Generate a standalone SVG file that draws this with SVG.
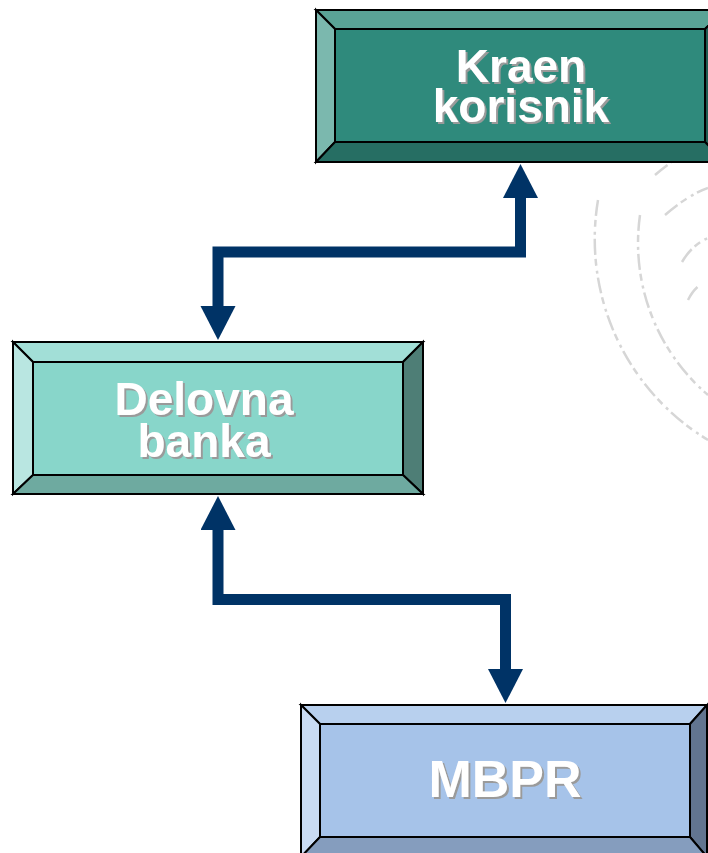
<svg xmlns="http://www.w3.org/2000/svg" width="708" height="853" viewBox="0 0 708 853">
  <style>
    .edge { stroke: #000; stroke-width: 2; stroke-linejoin: miter; }
    .lbl { font-family: "Liberation Sans", Arial, sans-serif; font-weight: bold; text-anchor: middle; fill: #fff; filter: url(#shadow); }
    .conn { fill: none; stroke: #003366; stroke-width: 11; stroke-linejoin: miter; }
    .wm { fill: none; stroke: #d6d6d6; stroke-width: 2.5; stroke-dasharray: 16 4 7 5 3 4; }
  </style>
  <defs>
    <marker id="ah" markerUnits="userSpaceOnUse" markerWidth="36" markerHeight="36" refX="1" refY="17.5" orient="auto-start-reverse" viewBox="0 0 36 36">
      <path d="M0,0 L34,17.5 L0,35 Z" fill="#003366"/>
    </marker>
    <filter id="shadow" x="-10%" y="-10%" width="130%" height="140%">
      <feOffset in="SourceAlpha" dx="2" dy="2" result="off"/>
      <feFlood flood-color="#9a9a9a"/>
      <feComposite in2="off" operator="in" result="sh"/>
      <feMerge>
        <feMergeNode in="sh"/>
        <feMergeNode in="SourceGraphic"/>
      </feMerge>
    </filter>
  </defs>
  <rect width="708" height="853" fill="#fff"/>

  <!-- faint watermark seal -->
  <g id="watermark">
    <path class="wm" d="M598,200 A235,235 0 0 0 708,440"/>
    <path class="wm" d="M640,215 A200,200 0 0 0 708,395"/>
    <path class="wm" d="M655,175 Q682,152 708,142"/>
    <path class="wm" d="M665,215 Q688,195 708,188"/>
    <path class="wm" d="M682,262 Q692,245 708,238"/>
    <path class="wm" d="M688,300 Q693,290 700,285"/>
  </g>

  <g id="connectors">
    <path class="conn" d="M520.5,197 V252 H218 V307" marker-start="url(#ah)" marker-end="url(#ah)"/>
    <path class="conn" d="M218,529 V599.5 H505.5 V670" marker-start="url(#ah)" marker-end="url(#ah)"/>
  </g>

  <g id="kraen-korisnik">
    <polygon class="edge" fill="#5aa396" points="316,10 725,10 705,29 335,29"/>
    <polygon class="edge" fill="#7bb8ae" points="316,10 335,29 335,142 316,162"/>
    <polygon class="edge" fill="#1f5c52" points="725,10 725,162 705,142 705,29"/>
    <polygon class="edge" fill="#266e63" points="316,162 335,142 705,142 725,162"/>
    <rect class="edge" fill="#2f8a7c" x="335" y="29" width="370" height="113"/>
    <text class="lbl" font-size="46" x="521" y="82">Kraen</text>
    <text class="lbl" font-size="46" x="521" y="122">korisnik</text>
  </g>

  <g id="delovna-banka">
    <polygon class="edge" fill="#a2dfd7" points="13,342 423,342 403,362 33,362"/>
    <polygon class="edge" fill="#b9e6e1" points="13,342 33,362 33,475 13,494"/>
    <polygon class="edge" fill="#4e7e76" points="423,342 423,494 403,475 403,362"/>
    <polygon class="edge" fill="#6eaaa0" points="13,494 33,475 403,475 423,494"/>
    <rect class="edge" fill="#88d6ca" x="33" y="362" width="370" height="113"/>
    <text class="lbl" font-size="46" x="204" y="415">Delovna</text>
    <text class="lbl" font-size="46" x="204" y="457">banka</text>
  </g>

  <g id="mbpr">
    <polygon class="edge" fill="#b8d0ee" points="301,705 707,705 690,724 320,724"/>
    <polygon class="edge" fill="#c9dbf3" points="301,705 320,724 320,837 301,857"/>
    <polygon class="edge" fill="#627590" points="707,705 707,857 690,837 690,724"/>
    <polygon class="edge" fill="#859dbe" points="301,857 320,837 690,837 707,857"/>
    <rect class="edge" fill="#a6c3e9" x="320" y="724" width="370" height="113"/>
    <text class="lbl" font-size="52" x="505" y="797">MBPR</text>
  </g>
</svg>
